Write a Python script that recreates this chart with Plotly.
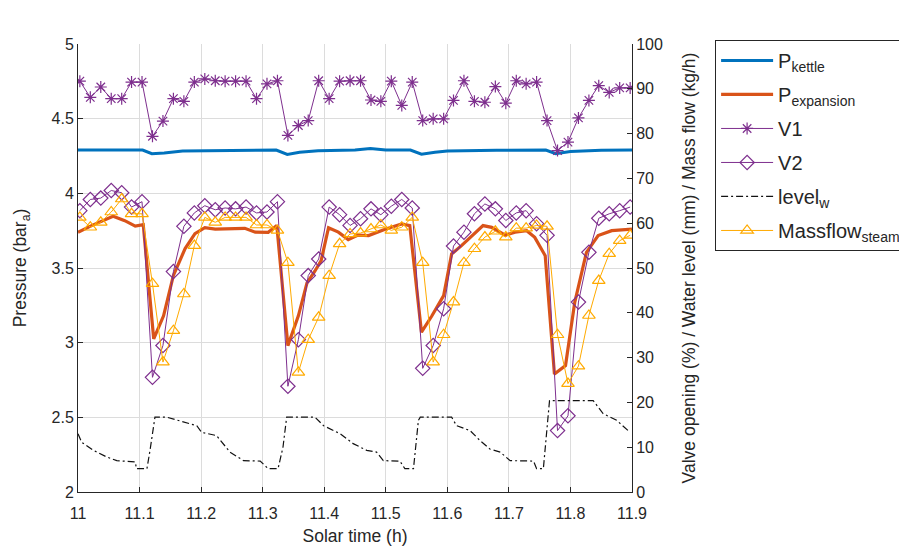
import plotly.graph_objects as go

# ---- sample clock (h) for the valve / mass-flow series (one sample per minute) ----
t_min = [11.003, 11.020, 11.037, 11.054, 11.071, 11.087, 11.104, 11.121, 11.138, 11.155,
         11.172, 11.189, 11.206, 11.223, 11.239, 11.256, 11.273, 11.290, 11.307, 11.324,
         11.341, 11.358, 11.374, 11.391, 11.408, 11.425, 11.442, 11.459, 11.476, 11.492,
         11.509, 11.526, 11.543, 11.560, 11.577, 11.594, 11.610, 11.627, 11.644, 11.661,
         11.678, 11.695, 11.712, 11.728, 11.745, 11.762, 11.779, 11.796, 11.813, 11.830,
         11.846, 11.863, 11.880, 11.897]

v1 = [91.7, 88.1, 90.4, 87.8, 87.8, 91.5, 91.5, 79.4, 82.8, 87.8,
      87.2, 91.5, 92.2, 91.8, 91.7, 91.7, 91.7, 87.8, 91.1, 91.8,
      79.6, 81.8, 82.9, 91.8, 87.8, 91.7, 91.8, 91.8, 87.5, 87.2,
      91.7, 86.3, 91.5, 82.9, 83.3, 83.3, 87.4, 91.8, 87.2, 87.0,
      90.5, 86.8, 91.8, 91.1, 91.5, 82.9, 76.2, 78.1, 83.5, 87.4,
      90.7, 89.2, 90.2, 90.2]

v2 = [62.8, 65.3, 65.6, 67.3, 66.8, 63.6, 64.8, 25.6, 32.7, 49.2,
      59.3, 62.3, 63.9, 63.0, 63.4, 63.2, 63.6, 62.3, 62.5, 64.8,
      23.6, 34.0, 48.3, 52.0, 63.6, 61.9, 59.5, 61.0, 63.2, 61.9,
      63.8, 65.3, 63.4, 27.6, 32.7, 40.9, 54.9, 58.0, 62.1, 64.3,
      63.2, 60.6, 62.3, 62.8, 59.9, 57.3, 13.7, 17.0, 42.4, 53.5,
      61.1, 62.1, 62.8, 63.6]

massflow = [61.3, 59.1, 60.2, 62.5, 65.4, 62.1, 62.1, 46.5, 29.0, 36.0,
            44.2, 55.0, 61.3, 60.2, 61.3, 61.3, 61.3, 59.6, 59.6, 58.4,
            51.2, 26.7, 34.0, 39.0, 48.3, 55.4, 57.6, 57.8, 58.7, 59.6,
            58.4, 59.1, 61.3, 51.2, 29.0, 35.1, 42.4, 51.2, 54.3, 56.9,
            58.2, 56.9, 58.9, 58.9, 59.5, 59.3, 35.1, 24.2, 28.1, 39.4,
            47.2, 53.2, 56.1, 57.3]

# ---- expansion pressure (bar_a) ----
t_pexp = [11.000, 11.022, 11.057, 11.076, 11.093, 11.106, 11.123, 11.139, 11.155, 11.174,
          11.190, 11.206, 11.223, 11.271, 11.288, 11.309, 11.323, 11.341, 11.358, 11.372,
          11.385, 11.395, 11.407, 11.423, 11.439, 11.455, 11.472, 11.499, 11.526, 11.539,
          11.558, 11.575, 11.594, 11.607, 11.623, 11.640, 11.658, 11.672, 11.694, 11.710,
          11.729, 11.742, 11.759, 11.774, 11.792, 11.807, 11.826, 11.845, 11.867, 11.900]
p_exp = [3.739, 3.784, 3.846, 3.817, 3.780, 3.790, 3.025, 3.180, 3.450, 3.630,
         3.730, 3.770, 3.760, 3.766, 3.740, 3.739, 3.784, 2.980, 3.180, 3.400,
         3.480, 3.550, 3.770, 3.740, 3.690, 3.720, 3.717, 3.760, 3.795, 3.784,
         3.070, 3.180, 3.315, 3.594, 3.650, 3.717, 3.784, 3.772, 3.720, 3.740,
         3.750, 3.705, 3.583, 2.790, 2.847, 3.270, 3.605, 3.717, 3.750, 3.760]

# ---- kettle pressure (bar_a) ----
t_pket = [11.000, 11.050, 11.105, 11.120, 11.140, 11.170, 11.200, 11.260, 11.322, 11.340,
          11.360, 11.390, 11.450, 11.475, 11.500, 11.540, 11.558, 11.580, 11.600, 11.680,
          11.760, 11.776, 11.800, 11.850, 11.900]
p_ket = [4.290, 4.288, 4.290, 4.265, 4.270, 4.283, 4.285, 4.288, 4.290, 4.260,
         4.275, 4.285, 4.290, 4.300, 4.290, 4.290, 4.262, 4.275, 4.283, 4.288,
         4.290, 4.265, 4.280, 4.288, 4.290]

# ---- water level (mm) ----
t_lvl = [11.000, 11.006, 11.025, 11.047, 11.063, 11.093, 11.095, 11.112, 11.117, 11.125,
         11.144, 11.171, 11.193, 11.201, 11.225, 11.247, 11.269, 11.296, 11.309, 11.325,
         11.333, 11.339, 11.385, 11.399, 11.426, 11.447, 11.469, 11.485, 11.496, 11.523,
         11.531, 11.545, 11.553, 11.556, 11.607, 11.615, 11.637, 11.653, 11.669, 11.686,
         11.702, 11.740, 11.745, 11.756, 11.766, 11.837, 11.853, 11.875, 11.897]
level = [13.0, 11.1, 9.3, 7.8, 7.0, 6.7, 5.2, 5.2, 9.3, 16.7,
         16.7, 15.6, 14.8, 13.3, 12.6, 8.9, 7.0, 6.9, 5.2, 5.2,
         10.0, 16.7, 16.7, 14.8, 13.0, 10.8, 9.3, 8.9, 7.0, 6.9,
         5.2, 5.2, 16.0, 16.7, 16.7, 14.8, 13.7, 11.5, 9.6, 8.9,
         7.0, 6.9, 5.2, 5.2, 20.4, 20.4, 17.5, 16.0, 13.3]

x_ticks = [11.0, 11.1, 11.2, 11.3, 11.4, 11.5, 11.6, 11.7, 11.8, 11.9]
x_ticklabels = ["11", "11.1", "11.2", "11.3", "11.4", "11.5", "11.6", "11.7", "11.8", "11.9"]
y1_ticks = [2, 2.5, 3, 3.5, 4, 4.5, 5]
y1_ticklabels = ["2", "2.5", "3", "3.5", "4", "4.5", "5"]
y2_ticks = [0, 10, 20, 30, 40, 50, 60, 70, 80, 90, 100]

BLUE = "#0072BD"
RED = "#D95319"
PURPLE = "#7E2F8E"
YELLOW = "#FFAA00"
FONT = "Liberation Sans, Arial, sans-serif"

fig = go.Figure()
fig.add_trace(go.Scatter(x=t_pket, y=p_ket, mode="lines", name="P<sub>kettle</sub>",
                         legendgroup="g1",
                         line=dict(color=BLUE, width=3)))
fig.add_trace(go.Scatter(x=t_pexp, y=p_exp, mode="lines", name="P<sub>expansion</sub>",
                         legendgroup="g2",
                         line=dict(color=RED, width=3.2)))
fig.add_trace(go.Scatter(x=t_min, y=v1, mode="lines+markers", name="V1", yaxis="y2",
                         legendgroup="g3",
                         line=dict(color=PURPLE, width=1),
                         marker=dict(symbol="asterisk-open", size=10,
                                     line=dict(color=PURPLE, width=1.2))))
fig.add_trace(go.Scatter(x=t_min, y=v2, mode="lines+markers", name="V2", yaxis="y2",
                         legendgroup="g4",
                         line=dict(color=PURPLE, width=1),
                         marker=dict(symbol="diamond-open", size=11, color=PURPLE,
                                     line=dict(color=PURPLE, width=1.2))))
fig.add_trace(go.Scatter(x=t_lvl, y=level, mode="lines", name="level<sub>w</sub>", yaxis="y2",
                         legendgroup="g5",
                         line=dict(color="#111111", width=1.2, dash="7px,3px,2px,3px")))
fig.add_trace(go.Scatter(x=t_min, y=massflow, mode="lines+markers", name="Massflow<sub>steam</sub>",
                         yaxis="y2", legendgroup="g6",
                         line=dict(color=YELLOW, width=1),
                         marker=dict(symbol="triangle-up-open", size=11, color=YELLOW,
                                     line=dict(color=YELLOW, width=1.2))))

fig.update_layout(
    width=899, height=542,
    margin=dict(l=70, r=275, t=36, b=58, autoexpand=False),
    paper_bgcolor="white", plot_bgcolor="white",
    font=dict(family=FONT, size=16, color="#262626"),
    showlegend=True,
    legend=dict(x=1.15, y=1.009, xanchor="left", yanchor="top",
                bordercolor="#262626", borderwidth=1, bgcolor="white",
                font=dict(family=FONT, size=20, color="#262626"),
                traceorder="grouped", tracegroupgap=5, itemwidth=52),
    xaxis=dict(range=[11.0, 11.9], tickvals=x_ticks, ticktext=x_ticklabels,
               showgrid=True, gridcolor="#DCDCDC", gridwidth=1,
               showline=True, linecolor="#262626", linewidth=1,
               ticks="inside", ticklen=5, tickcolor="#262626",
               zeroline=False, tickfont=dict(size=16), ticklabelstandoff=7,
               automargin=False,
               title=dict(text="Solar time (h)", font=dict(size=17.5), standoff=8)),
    yaxis=dict(range=[2, 5], tickvals=y1_ticks, ticktext=y1_ticklabels,
               showgrid=True, gridcolor="#DCDCDC", gridwidth=1,
               showline=True, linecolor="#262626", linewidth=1,
               ticks="inside", ticklen=5, tickcolor="#262626",
               zeroline=False, tickfont=dict(size=16), automargin=False,
               title=dict(text="Pressure (bar<sub>a</sub>)", font=dict(size=17.5), standoff=20)),
    yaxis2=dict(range=[0, 100], tickvals=y2_ticks, overlaying="y", side="right",
                showgrid=False, showline=True, linecolor="#262626", linewidth=1,
                ticks="inside", ticklen=5, tickcolor="#262626",
                zeroline=False, tickfont=dict(size=16), automargin=False,
                title=dict(text="Valve opening (%) / Water level (mm) / Mass flow (kg/h)",
                           font=dict(size=17.5), standoff=20)),
)

fig.write_html("out.html")
